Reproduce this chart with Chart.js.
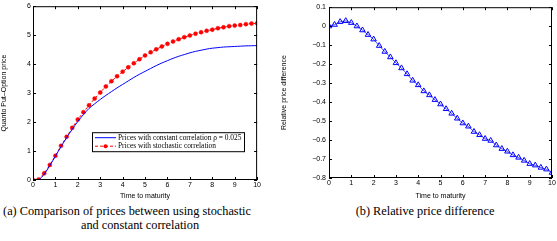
<!DOCTYPE html>
<html>
<head>
<meta charset="utf-8">
<script src="https://cdn.jsdelivr.net/npm/chart.js@4"></script>
<style>
  body { margin: 0; background: #fff; width: 557px; height: 241px; position: relative; overflow: hidden; }
  canvas { position: absolute; top: 0; }
  #cA { left: 0; }
  #cB { left: 280px; }
  .cap { position: absolute; font-family: "Liberation Serif", serif; font-size: 12.3px; color: #000; white-space: nowrap; text-align: center; }
</style>
</head>
<body>
<canvas id="cA" width="262" height="200"></canvas>
<canvas id="cB" width="277" height="200"></canvas>
<div class="cap" style="left:0;width:254px;top:204px">(a) Comparison of prices between using stochastic</div>
<div class="cap" style="left:0;width:280px;top:218px">and constant correlation</div>
<div class="cap" style="left:325px;width:200px;top:204px">(b) Relative price difference</div>
<script>
// ── Data ──────────────────────────────────────────────────────
const times = [0, 0.25, 0.5, 0.75, 1, 1.25, 1.5, 1.75, 2, 2.25, 2.5, 2.75, 3, 3.25, 3.5, 3.75,
  4, 4.25, 4.5, 4.75, 5, 5.25, 5.5, 5.75, 6, 6.25, 6.5, 6.75, 7, 7.25, 7.5, 7.75,
  8, 8.25, 8.5, 8.75, 9, 9.25, 9.5, 9.75, 10];

const priceStoch = [0, 0.02, 0.23, 0.52, 0.84, 1.18, 1.49, 1.80, 2.09, 2.34, 2.58, 2.81, 3.02, 3.23, 3.41, 3.58,
  3.74, 3.89, 4.03, 4.17, 4.30, 4.41, 4.51, 4.61, 4.70, 4.78, 4.86, 4.93, 4.99, 5.05, 5.10, 5.15,
  5.19, 5.24, 5.27, 5.31, 5.33, 5.35, 5.38, 5.40, 5.41];

const priceConst = [0, 0.01, 0.2, 0.5, 0.82, 1.15, 1.46, 1.75, 2.02, 2.26, 2.47, 2.63, 2.78, 2.92, 3.05, 3.18,
  3.30, 3.42, 3.54, 3.65, 3.75, 3.85, 3.95, 4.04, 4.12, 4.20, 4.27, 4.33, 4.39, 4.44, 4.48, 4.52,
  4.55, 4.57, 4.59, 4.60, 4.61, 4.62, 4.63, 4.635, 4.64];

const relDiff = [0, 0.008, 0.023, 0.028, 0.018, 0, -0.021, -0.045, -0.069, -0.103, -0.134, -0.163, -0.194, -0.221, -0.252, -0.286,
  -0.310, -0.342, -0.363, -0.388, -0.411, -0.436, -0.460, -0.486, -0.511, -0.528, -0.556, -0.573, -0.593, -0.603, -0.627, -0.646,
  -0.660, -0.679, -0.692, -0.708, -0.725, -0.733, -0.745, -0.754, -0.772];

const labelConst = 'Prices with constant correlation ρ = 0.025';
const labelStoch = 'Prices with stochastic correlation';

const pts = arr => times.map((t, i) => ({ x: t, y: arr[i] }));
const tickFont = { family: 'Liberation Sans', size: 7 };

// ── Plugin: box + inward ticks (matlab style) ─────────────────
const boxTicks = {
  id: 'boxTicks',
  afterDraw(chart) {
    const { ctx, chartArea: a, scales: { x, y } } = chart;
    ctx.save();
    ctx.strokeStyle = '#000';
    ctx.lineWidth = 1;
    ctx.strokeRect(a.left + 0.5, a.top + 0.5, a.right - a.left - 1, a.bottom - a.top - 1);
    ctx.beginPath();
    x.ticks.forEach(t => {
      const px = Math.round(x.getPixelForValue(t.value)) + 0.5;
      ctx.moveTo(px, a.bottom); ctx.lineTo(px, a.bottom - 3);
      ctx.moveTo(px, a.top); ctx.lineTo(px, a.top + 3);
    });
    y.ticks.forEach(t => {
      const py = Math.round(y.getPixelForValue(t.value)) + 0.5;
      ctx.moveTo(a.left, py); ctx.lineTo(a.left + 3, py);
      ctx.moveTo(a.right, py); ctx.lineTo(a.right - 3, py);
    });
    ctx.stroke();
    ctx.restore();
  }
};

// ── Plugin: legend box inside the plot ────────────────────────
const boxLegend = {
  id: 'boxLegend',
  afterDraw(chart) {
    const { ctx, chartArea: a } = chart;
    const ds = chart.data.datasets;
    const L = a.left + 59, T = a.top + 126, W = 152, H = 19;
    ctx.save();
    ctx.fillStyle = '#fff';
    ctx.fillRect(L, T, W, H);
    ctx.strokeStyle = '#000';
    ctx.lineWidth = 1;
    ctx.strokeRect(L + 0.5, T + 0.5, W, H);
    ctx.font = '7.4px "Liberation Serif"';
    ctx.textBaseline = 'middle';
    ds.forEach((d, i) => {
      const yy = T + 5.5 + i * 8.5;
      ctx.strokeStyle = d.borderColor;
      ctx.lineWidth = d.borderWidth;
      ctx.setLineDash(d.borderDash || []);
      ctx.beginPath(); ctx.moveTo(L + 3, yy); ctx.lineTo(L + 24, yy); ctx.stroke();
      ctx.setLineDash([]);
      if (d.pointRadius > 0) {
        ctx.fillStyle = d.pointBackgroundColor;
        ctx.beginPath(); ctx.arc(L + 13.5, yy, 2, 0, Math.PI * 2); ctx.fill();
      }
      ctx.fillStyle = '#000';
      ctx.fillText(d.label, L + 26, yy);
    });
    ctx.restore();
  }
};

const fmt = v => {
  const r = Math.round(v * 10) / 10;
  if (r === 0) return '0';
  return (r < 0 ? '\u2212' : '') + Math.abs(r).toString();
};

function xAxis(h) {
  return {
    type: 'linear', min: 0, max: 10,
    ticks: { stepSize: 1, font: tickFont, color: '#000', padding: 1, maxRotation: 0 },
    grid: { display: false, drawTicks: false },
    border: { display: false },
    title: { display: true, text: 'Time to maturity', font: tickFont, color: '#000', padding: 0 },
    afterFit: s => { s.height = h; }
  };
}

// ── Chart A: prices ───────────────────────────────────────────
new Chart(document.getElementById('cA'), {
  type: 'line',
  data: {
    datasets: [
      {
        label: labelConst, data: pts(priceConst),
        borderColor: '#0000ff', borderWidth: 1, pointRadius: 0,
        pointBackgroundColor: '#0000ff', tension: 0.3
      },
      {
        label: labelStoch, data: pts(priceStoch),
        borderColor: '#ff0000', borderWidth: 1, borderDash: [3, 2],
        pointRadius: 2, pointBackgroundColor: '#ff0000', pointBorderColor: '#ff0000',
        pointBorderWidth: 0.5, tension: 0
      }
    ]
  },
  options: {
    responsive: false, animation: false, devicePixelRatio: 1,
    layout: { padding: { top: 4, right: 4, left: 0, bottom: 0 } },
    plugins: { legend: { display: false }, tooltip: { enabled: false } },
    scales: {
      x: xAxis(20),
      y: {
        type: 'linear', min: 0, max: 6,
        ticks: { stepSize: 1, font: tickFont, color: '#000', padding: 2 },
        grid: { display: false, drawTicks: false },
        border: { display: false },
        title: { display: true, text: 'Quanto Put\u2013Option price', font: tickFont, color: '#000', padding: 0 },
        afterFit: s => { s.width = 33; }
      }
    }
  },
  plugins: [boxTicks, boxLegend]
});

// ── Chart B: relative difference ──────────────────────────────
new Chart(document.getElementById('cB'), {
  type: 'line',
  data: {
    datasets: [{
      label: 'Relative price difference', data: pts(relDiff),
      borderColor: '#0000ff', borderWidth: 0.7,
      pointStyle: 'triangle', pointRadius: 3.2,
      pointBackgroundColor: 'rgba(0,0,0,0)', pointBorderColor: '#0000ff', pointBorderWidth: 1,
      tension: 0
    }]
  },
  options: {
    responsive: false, animation: false, devicePixelRatio: 1,
    layout: { padding: { top: 3, right: 4, left: 0, bottom: 0 } },
    plugins: { legend: { display: false }, tooltip: { enabled: false } },
    scales: {
      x: xAxis(22),
      y: {
        type: 'linear', min: -0.8, max: 0.1,
        ticks: { stepSize: 0.1, font: tickFont, color: '#000', padding: 3, callback: v => fmt(v) },
        grid: { display: false, drawTicks: false },
        border: { display: false },
        title: { display: true, text: 'Relative price difference', font: tickFont, color: '#000', padding: 0 },
        afterFit: s => { s.width = 49; }
      }
    }
  },
  plugins: [boxTicks]
});
</script>
</body>
</html>
